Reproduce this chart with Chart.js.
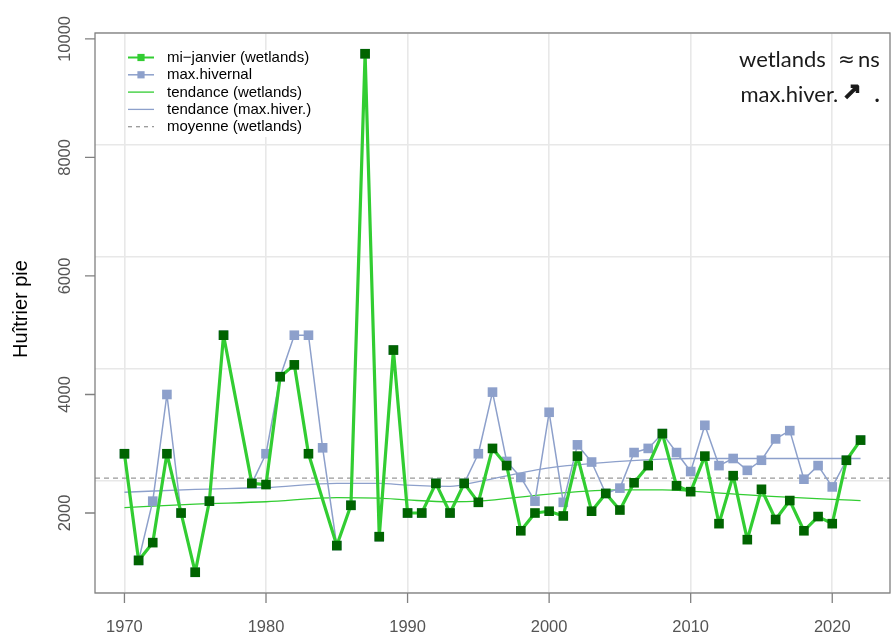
<!DOCTYPE html>
<html><head><meta charset="utf-8">
<script src="https://cdn.jsdelivr.net/npm/chart.js@4"></script>
<style>html,body{margin:0;padding:0;background:#fff;}</style>
</head><body>
<canvas id="c" width="891" height="634"></canvas>
<script>
// ---- data ----
const years = [1970,1971,1972,1973,1974,1975,1976,1977,1978,1979,
  1980,1981,1982,1983,1984,1985,1986,1987,1988,1989,
  1990,1991,1992,1993,1994,1995,1996,1997,1998,1999,
  2000,2001,2002,2003,2004,2005,2006,2007,2008,2009,
  2010,2011,2012,2013,2014,2015,2016,2017,2018,2019,
  2020,2021,2022];
const wetlands = [3000,1200,1500,3000,2000,1000,2200,5000,null,2500,
  2480,4300,4500,3000,null,1450,2130,9750,1600,4750,
  2000,2000,2500,2000,2500,2180,3090,2800,1700,2000,
  2030,1950,2960,2030,2330,2050,2510,2800,3340,2460,
  2360,2960,1820,2630,1550,2400,1890,2210,1700,1940,
  1820,2890,3230];
const maxHivernal = [3000,1200,2200,4000,2000,1000,2200,5000,null,2500,
  3000,4300,5000,5000,3100,1450,2130,9750,1600,4750,
  2000,2000,2500,2000,2500,3000,4040,2870,2600,2200,
  3700,2180,3150,2860,2330,2420,3020,3090,3340,3020,
  2700,3480,2800,2920,2720,2890,3250,3390,2570,2800,
  2440,2890,3230];
const trendYears     = [1970,1975,1980,1985,1988,1990,1993,1995,2000,2005,2008,2010,2015,2020,2022];
const trendWetlands  = [2090,2150,2190,2260,2250,2220,2190,2200,2320,2390,2390,2370,2290,2230,2210];
const trendMaxHiver  = [2350,2400,2430,2500,2500,2470,2450,2530,2760,2870,2910,2920,2920,2920,2920];
const meanWetlands = 2590;
const xTicks = [1970,1980,1990,2000,2010,2020];
const yTicks = [2000,4000,6000,8000,10000];
const yTitle = 'Huîtrier pie';
const legendLabels = ['mi\u2212janvier (wetlands)','max.hivernal','tendance (wetlands)','tendance (max.hiver.)','moyenne (wetlands)'];
const annotLabels = ['wetlands','max.hiver.'];
const annotSymbols = ['\u2248','\u2197'];
const annotSignif = ['ns','.'];

const X_MIN = 1967.92, X_MAX = 2024.08, Y_MIN = 650, Y_MAX = 10100;
const GREEN = '#32CD32', DARKGREEN = '#006400', BLUE = '#8DA0CB';

const pts = (xs, ys) => xs.map((x, i) => ({x: x, y: ys[i]}));

const overlay = {
  id: 'overlay',
  afterDraw(chart) {
    const ctx = chart.ctx, a = chart.chartArea;
    const sx = chart.scales.x, sy = chart.scales.y;
    ctx.save();
    // box
    ctx.strokeStyle = '#808080'; ctx.lineWidth = 1.3;
    ctx.strokeRect(a.left, a.top, a.right - a.left, a.bottom - a.top);
    // ticks
    ctx.beginPath();
    xTicks.forEach(v => { const p = sx.getPixelForValue(v); ctx.moveTo(p, a.bottom); ctx.lineTo(p, a.bottom + 10); });
    yTicks.forEach(v => { const p = sy.getPixelForValue(v); ctx.moveTo(a.left, p); ctx.lineTo(a.left - 10, p); });
    ctx.stroke();
    // tick labels
    ctx.fillStyle = '#555555';
    ctx.font = '16.5px "Liberation Sans", Arial, sans-serif';
    ctx.textAlign = 'center'; ctx.textBaseline = 'alphabetic';
    xTicks.forEach(v => ctx.fillText(String(v), sx.getPixelForValue(v), 632));
    yTicks.forEach(v => {
      ctx.save(); ctx.translate(70, sy.getPixelForValue(v)); ctx.rotate(-Math.PI / 2);
      ctx.fillText(String(v), 0, 0); ctx.restore();
    });
    // axis title
    ctx.fillStyle = '#000';
    ctx.font = '20px "Liberation Sans", Arial, sans-serif';
    ctx.save(); ctx.translate(27, 309); ctx.rotate(-Math.PI / 2);
    ctx.fillText(yTitle, 0, 0); ctx.restore();
    // legend
    ctx.fillStyle = '#fff';
    ctx.fillRect(127, 50, 186, 87);
    const ly0 = 57.5, ldy = 17.3, lx0 = 128, lx1 = 154;
    const styles = [
      {c: GREEN, w: 2, dash: [], sq: GREEN},
      {c: BLUE, w: 1.5, dash: [], sq: BLUE},
      {c: GREEN, w: 1.3, dash: [], sq: null},
      {c: BLUE, w: 1.3, dash: [], sq: null},
      {c: '#999999', w: 1.3, dash: [4, 4], sq: null}
    ];
    ctx.font = '15px "Liberation Sans", Arial, sans-serif';
    ctx.textAlign = 'left'; ctx.textBaseline = 'middle';
    legendLabels.forEach((lab, i) => {
      const y = ly0 + i * ldy, s = styles[i];
      ctx.strokeStyle = s.c; ctx.lineWidth = s.w; ctx.setLineDash(s.dash);
      ctx.beginPath(); ctx.moveTo(lx0, y); ctx.lineTo(lx1, y); ctx.stroke();
      ctx.setLineDash([]);
      if (s.sq) { ctx.fillStyle = s.sq; ctx.fillRect(141 - 3.6, y - 3.6, 7.2, 7.2); }
      ctx.fillStyle = '#000';
      ctx.fillText(lab, 167, y + 0.5);
    });
    // annotation
    ctx.fillStyle = '#1a1a1a';
    ctx.textBaseline = 'alphabetic';
    ctx.font = '22px Lato, "Open Sans", sans-serif';
    ctx.textAlign = 'left';
    ctx.fillText(annotLabels[0], 739, 66.7);
    ctx.fillText(annotLabels[1], 740.5, 101.7);
    ctx.fillText(annotSignif[0], 858, 66.7);
    ctx.textAlign = 'center';
    ctx.font = 'bold 22px Lato, "Open Sans", sans-serif';
    ctx.fillText(annotSignif[1], 877, 101.7);
    ctx.font = '20px "DejaVu Sans", sans-serif';
    ctx.textBaseline = 'middle';
    ctx.fillText(annotSymbols[0], 846.3, 61);
    ctx.font = 'bold 23px "DejaVu Sans", sans-serif';
    ctx.strokeStyle = '#1a1a1a'; ctx.lineWidth = 1.2;
    ctx.fillText(annotSymbols[1], 852, 94);
    ctx.strokeText(annotSymbols[1], 852, 94);
    ctx.restore();
  }
};

new Chart(document.getElementById('c'), {
  type: 'line',
  data: {
    datasets: [
      {label: 'moyenne', data: [{x: X_MIN, y: meanWetlands}, {x: X_MAX, y: meanWetlands}],
        borderColor: '#999999', borderWidth: 1.3, borderDash: [5, 4], pointRadius: 0, order: 5},
      {label: 'tendance wetlands', data: pts(trendYears, trendWetlands), borderColor: GREEN, borderWidth: 1.3,
        pointRadius: 0, cubicInterpolationMode: 'monotone', order: 4},
      {label: 'tendance max', data: pts(trendYears, trendMaxHiver), borderColor: BLUE, borderWidth: 1.3,
        pointRadius: 0, cubicInterpolationMode: 'monotone', order: 3},
      {label: 'max.hivernal', data: pts(years, maxHivernal), borderColor: BLUE, borderWidth: 1.5,
        pointStyle: 'rect', pointRadius: 6.8, pointBackgroundColor: BLUE, pointBorderWidth: 0,
        pointBorderColor: BLUE, spanGaps: true, borderJoinStyle: 'round', order: 2},
      {label: 'wetlands', data: pts(years, wetlands), borderColor: GREEN, borderWidth: 3.2,
        pointStyle: 'rect', pointRadius: 6.8, pointBackgroundColor: DARKGREEN, pointBorderWidth: 0,
        pointBorderColor: DARKGREEN, spanGaps: true, borderJoinStyle: 'round', order: 1}
    ]
  },
  options: {
    responsive: false, animation: false, devicePixelRatio: 1,
    layout: {autoPadding: false, padding: {left: 95, right: 1, top: 33, bottom: 41}},
    plugins: {legend: {display: false}, tooltip: {enabled: false}},
    elements: {line: {tension: 0}},
    scales: {
      x: {type: 'linear', min: X_MIN, max: X_MAX,
        ticks: {display: false, stepSize: 10, includeBounds: false},
        grid: {color: '#e8e8e8', lineWidth: 1.6, drawTicks: false}, border: {display: false},
        afterFit: s => { s.height = 0; }},
      y: {type: 'linear', min: Y_MIN, max: Y_MAX,
        ticks: {display: false, stepSize: 2000, includeBounds: false},
        grid: {color: '#e8e8e8', lineWidth: 1.6, drawTicks: false}, border: {display: false},
        afterFit: s => { s.width = 0; }}
    }
  },
  plugins: [overlay]
});
</script>
</body></html>
